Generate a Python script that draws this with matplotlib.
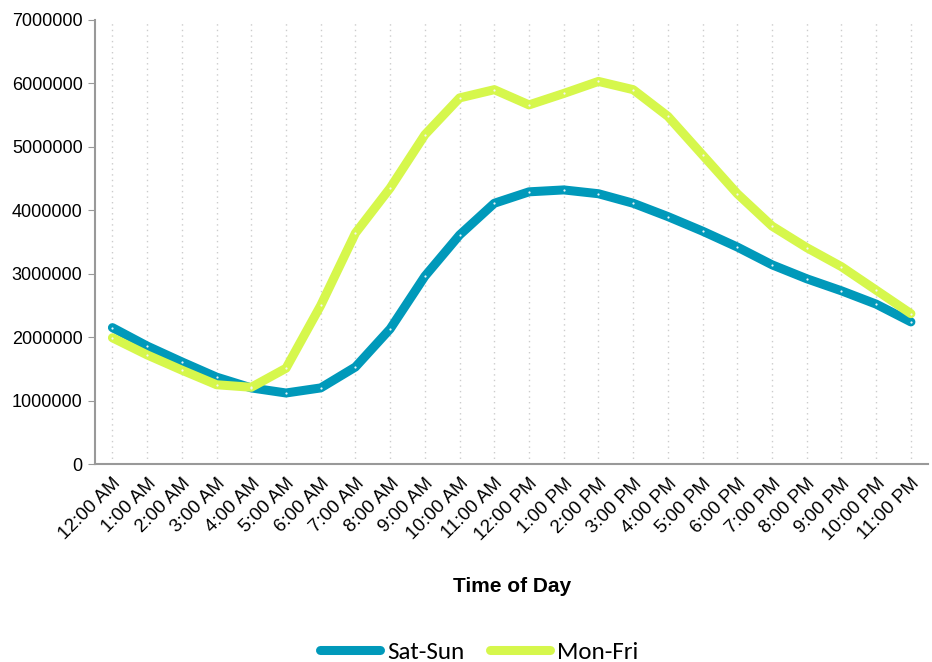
import matplotlib
matplotlib.use("Agg")
import matplotlib.pyplot as plt
import numpy as np

hours = ["12:00 AM", "1:00 AM", "2:00 AM", "3:00 AM", "4:00 AM", "5:00 AM",
         "6:00 AM", "7:00 AM", "8:00 AM", "9:00 AM", "10:00 AM", "11:00 AM",
         "12:00 PM", "1:00 PM", "2:00 PM", "3:00 PM", "4:00 PM", "5:00 PM",
         "6:00 PM", "7:00 PM", "8:00 PM", "9:00 PM", "10:00 PM", "11:00 PM"]

sat_sun = [2150000, 1860000, 1610000, 1370000, 1200000, 1120000,
           1200000, 1530000, 2130000, 2960000, 3610000, 4110000,
           4290000, 4320000, 4260000, 4110000, 3900000, 3670000,
           3420000, 3140000, 2920000, 2730000, 2520000, 2240000]

mon_fri = [1990000, 1720000, 1480000, 1250000, 1210000, 1510000,
           2500000, 3640000, 4350000, 5190000, 5770000, 5900000,
           5660000, 5840000, 6030000, 5900000, 5480000, 4870000,
           4260000, 3750000, 3410000, 3110000, 2740000, 2370000]

teal = "#0099ba"
lime = "#d6f74c"

plt.rcParams["font.family"] = ["Liberation Sans", "DejaVu Sans"]

fig = plt.figure(figsize=(9.32, 6.62), dpi=100)
ax = fig.add_axes([0.102, 0.299, 0.894, 0.671])

x = np.arange(len(hours))

# light dotted guides at each hour
for xi in x:
    ax.axvline(xi, color="#cccccc", lw=1, ls=(0, (1, 3)), zorder=1)

ax.plot(x, sat_sun, color=teal, lw=6.5, solid_capstyle="round",
        solid_joinstyle="round", label="Sat-Sun", zorder=3)
ax.plot(x, mon_fri, color=lime, lw=6.5, solid_capstyle="round",
        solid_joinstyle="round", label="Mon-Fri", zorder=4)
ax.plot(x, sat_sun, ls="none", marker="o", ms=1.6, color="#e8f4f8",
        mew=0, zorder=5)
ax.plot(x, mon_fri, ls="none", marker="o", ms=1.6, color="#f4f4f4",
        mew=0, zorder=5)

ax.set_xlim(-0.5, 23.5)
ax.set_ylim(0, 7000000)
ax.set_yticks(np.arange(0, 7000001, 1000000))
ax.set_yticklabels([str(v) for v in range(0, 7000001, 1000000)])
ax.set_xticks(x)
ax.set_xticklabels(hours, rotation=45, ha="right", rotation_mode="anchor")

for side in ["top", "right"]:
    ax.spines[side].set_visible(False)
for side in ["left", "bottom"]:
    ax.spines[side].set_color("#999999")
    ax.spines[side].set_linewidth(1.5)

ax.tick_params(axis="y", length=5, color="#999999", labelsize=13, pad=4)
ax.tick_params(axis="x", length=0, labelsize=13.5, pad=8)

ax.set_xlabel("Time of Day", fontsize=15, fontweight="bold", labelpad=24)

leg = fig.legend(loc="lower center", bbox_to_anchor=(0.514, -0.035), ncol=2,
                 frameon=False, handlelength=2.4, handletextpad=0.3,
                 columnspacing=1.0, prop={"family": "Carlito", "size": 18})
for line in leg.get_lines():
    line.set_linewidth(6.5)
    line.set_solid_capstyle("round")

fig.savefig("out.png", dpi=100)
